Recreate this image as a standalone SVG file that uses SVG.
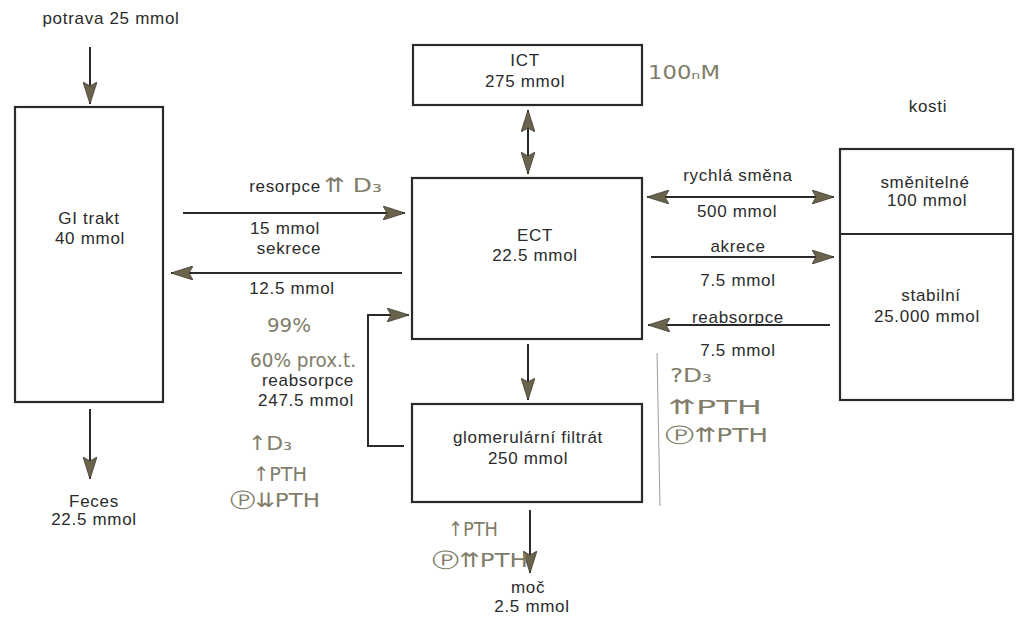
<svg xmlns="http://www.w3.org/2000/svg" width="1017" height="618" viewBox="0 0 1017 618">
<defs>
<marker id="ah" viewBox="0 0 22 14" refX="22" refY="7" markerWidth="22" markerHeight="14" markerUnits="userSpaceOnUse" orient="auto-start-reverse">
<path d="M0,0 L22,7 L0,14 L4,7 Z" fill="#6b634c" stroke="#3f3b30" stroke-width="0.8"/>
</marker>
<style>
.box{fill:#fff;stroke:#2a2a2a;stroke-width:2.2}
.t{font-family:"Liberation Sans",Arial,sans-serif;font-size:17px;letter-spacing:0.7px;fill:#2b2b2b;text-anchor:middle}
.ln{stroke:#2a2a2a;stroke-width:2;fill:none}
.hw{font-family:"DejaVu Sans Condensed","DejaVu Sans",sans-serif;font-size:20px;fill:#807d69}
.hl{stroke:#a0a096;stroke-width:1;fill:none}
</style>
</defs>
<rect width="1017" height="618" fill="#fff"/>

<g id="gi">
<rect class="box" x="15" y="107" width="148" height="295"/>
<text class="t" x="89" y="224">GI trakt</text>
<text class="t" x="90" y="244">40 mmol</text>
</g>
<g id="potrava"><text class="t" x="111" y="24">potrava 25 mmol</text></g>
<g id="feces"><text class="t" x="94" y="507">Feces</text><text class="t" x="94" y="525">22.5 mmol</text></g>

<g id="ict">
<rect class="box" x="413" y="45" width="229" height="60"/>
<text class="t" x="525" y="66">ICT</text>
<text class="t" x="525" y="87">275 mmol</text>
</g>

<g id="ect">
<rect class="box" x="412" y="178" width="230" height="161"/>
<text class="t" x="535" y="241">ECT</text>
<text class="t" x="535" y="261">22.5 mmol</text>
</g>

<g id="glom">
<rect class="box" x="412" y="404" width="230" height="98"/>
<text class="t" x="528" y="443">glomerulární filtrát</text>
<text class="t" x="528" y="464">250 mmol</text>
</g>

<g id="moc"><text class="t" x="528" y="593">moč</text><text class="t" x="532" y="612">2.5 mmol</text></g>

<g id="kosti">
<text class="t" x="928" y="112">kosti</text>
<rect class="box" x="840" y="149" width="173" height="251"/>
<line class="ln" x1="840" y1="234" x2="1013" y2="234" stroke-width="2.2"/>
<text class="t" x="925" y="188">směnitelné</text>
<text class="t" x="927" y="206">100 mmol</text>
<text class="t" x="931" y="301">stabilní</text>
<text class="t" x="927" y="322">25.000 mmol</text>
</g>

<g id="connectors">
<line class="ln" x1="90" y1="47" x2="90" y2="104" marker-end="url(#ah)"/>
<line class="ln" x1="90" y1="409" x2="90" y2="479" marker-end="url(#ah)"/>
<line class="ln" x1="528" y1="110" x2="528" y2="174" marker-start="url(#ah)" marker-end="url(#ah)"/>
<line class="ln" x1="528" y1="344" x2="528" y2="400" marker-end="url(#ah)"/>
<line class="ln" x1="530" y1="510" x2="530" y2="573" marker-end="url(#ah)"/>
<line class="ln" x1="183" y1="213" x2="405" y2="213" marker-end="url(#ah)"/>
<line class="ln" x1="402" y1="273" x2="171" y2="273" marker-end="url(#ah)"/>
<path class="ln" d="M404,446 H368 V315 H409" marker-end="url(#ah)"/>
<line class="ln" x1="647" y1="197" x2="834" y2="197" marker-start="url(#ah)" marker-end="url(#ah)"/>
<line class="ln" x1="651" y1="257" x2="834" y2="257" marker-end="url(#ah)"/>
<line class="ln" x1="830" y1="325" x2="648" y2="325" marker-end="url(#ah)"/>
</g>

<g id="labels">
<text class="t" x="285" y="192">resorpce</text>
<text class="t" x="285" y="234">15 mmol</text>
<text class="t" x="289" y="254">sekrece</text>
<text class="t" x="292" y="294">12.5 mmol</text>
<text class="t" x="308" y="386">reabsorpce</text>
<text class="t" x="306" y="406">247.5 mmol</text>
<text class="t" x="738" y="181">rychlá směna</text>
<text class="t" x="737" y="217">500 mmol</text>
<text class="t" x="738" y="252">akrece</text>
<text class="t" x="738" y="286">7.5 mmol</text>
<text class="t" x="738" y="323">reabsorpce</text>
<text class="t" x="738" y="356">7.5 mmol</text>
</g>

<g id="notes">
<text class="hw" x="648" y="79" font-size="18" textLength="72" lengthAdjust="spacingAndGlyphs">100ₙM</text>
<text class="hw" x="324" y="192" textLength="58" lengthAdjust="spacingAndGlyphs">⇈ D₃</text>
<text class="hw" x="267" y="332" textLength="44" lengthAdjust="spacingAndGlyphs">99%</text>
<text class="hw" x="250" y="367" font-size="18" textLength="106" lengthAdjust="spacingAndGlyphs">60% prox.t.</text>
<text class="hw" x="248" y="450" font-size="22" textLength="44" lengthAdjust="spacingAndGlyphs">↑D₃</text>
<text class="hw" x="253" y="481" textLength="54" lengthAdjust="spacingAndGlyphs">↑PTH</text>
<text class="hw" x="230" y="507" textLength="90" lengthAdjust="spacingAndGlyphs">Ⓟ⇊PTH</text>
<text class="hw" x="670" y="382" textLength="42" lengthAdjust="spacingAndGlyphs">?D₃</text>
<text class="hw" x="668" y="414" textLength="94" lengthAdjust="spacingAndGlyphs">⇈PTH</text>
<text class="hw" x="665" y="442" textLength="103" lengthAdjust="spacingAndGlyphs">Ⓟ⇈PTH</text>
<text class="hw" x="448" y="536" textLength="50" lengthAdjust="spacingAndGlyphs">↑PTH</text>
<text class="hw" x="432" y="567" textLength="96" lengthAdjust="spacingAndGlyphs">Ⓟ⇈PTH</text>
<line class="hl" x1="657" y1="353" x2="660" y2="506"/>
</g>
</svg>
